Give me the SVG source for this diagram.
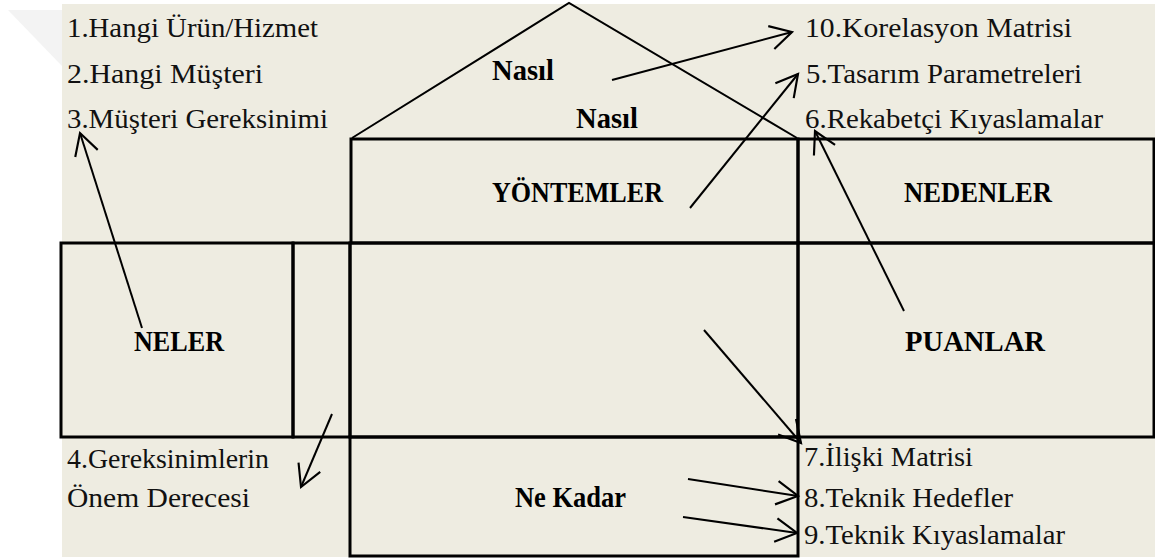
<svg xmlns="http://www.w3.org/2000/svg" width="1155" height="560" viewBox="0 0 1155 560">
  <style>
    .box { fill: none; stroke: #000; stroke-width: 3; }
    .roof { fill: none; stroke: #000; stroke-width: 2; }
    .arrow { fill: none; stroke: #000; stroke-width: 2; marker-end: url(#head); }
    .lbl { font-family: "Liberation Serif", "Times New Roman", serif; font-size: 28px; fill: #111; }
    .ttl { font-family: "Liberation Serif", "Times New Roman", serif; font-size: 29px; font-weight: bold; fill: #000; }
  </style>
  <defs>
    <marker id="head" markerUnits="userSpaceOnUse" markerWidth="30" markerHeight="30" viewBox="-24 -14 28 28" refX="0" refY="0" orient="auto">
      <path d="M-20,-11 L0,0 L-20,11" fill="none" stroke="#000" stroke-width="2"/>
    </marker>
  </defs>

  <!-- page -->
  <rect x="0" y="0" width="1155" height="560" fill="#ffffff"/>
  <polygon points="8,10 62,10 62,66" fill="#f3f3f3"/>
  <rect x="62" y="4" width="1093" height="553" fill="#eeece1"/>

  <!-- house of quality frame -->
  <g id="roof">
    <polyline class="roof" points="352,138 569,3 797,138"/>
    <text class="ttl" x="492" y="80" textLength="62" lengthAdjust="spacingAndGlyphs">Nasıl</text>
    <text class="ttl" x="576" y="128" textLength="62" lengthAdjust="spacingAndGlyphs">Nasıl</text>
  </g>

  <g id="yontemler">
    <rect class="box" x="351" y="139" width="447" height="104"/>
    <text class="ttl" x="492" y="202" textLength="171" lengthAdjust="spacingAndGlyphs">YÖNTEMLER</text>
  </g>

  <g id="nedenler">
    <rect class="box" x="798" y="139" width="356" height="104"/>
    <text class="ttl" x="904" y="202" textLength="148" lengthAdjust="spacingAndGlyphs">NEDENLER</text>
  </g>

  <g id="neler">
    <rect class="box" x="61" y="243" width="232" height="194"/>
    <text class="ttl" x="134" y="351" textLength="90" lengthAdjust="spacingAndGlyphs">NELER</text>
  </g>

  <g id="onem">
    <rect class="box" x="293" y="243" width="57" height="194"/>
  </g>

  <g id="iliski">
    <rect class="box" x="350" y="243" width="448" height="194"/>
  </g>

  <g id="puanlar">
    <rect class="box" x="798" y="243" width="356" height="194"/>
    <text class="ttl" x="905" y="351" textLength="140" lengthAdjust="spacingAndGlyphs">PUANLAR</text>
  </g>

  <g id="ne-kadar">
    <rect class="box" x="350" y="437" width="448" height="119"/>
    <text class="ttl" x="515" y="507" textLength="111" lengthAdjust="spacingAndGlyphs">Ne Kadar</text>
  </g>

  <!-- numbered captions -->
  <g id="captions-left">
    <text class="lbl" x="67" y="37" textLength="251" lengthAdjust="spacingAndGlyphs">1.Hangi Ürün/Hizmet</text>
    <text class="lbl" x="67" y="83" textLength="196" lengthAdjust="spacingAndGlyphs">2.Hangi Müşteri</text>
    <text class="lbl" x="67" y="128" textLength="261" lengthAdjust="spacingAndGlyphs">3.Müşteri Gereksinimi</text>
    <text class="lbl" x="67" y="468" textLength="202" lengthAdjust="spacingAndGlyphs">4.Gereksinimlerin</text>
    <text class="lbl" x="67" y="507" textLength="183" lengthAdjust="spacingAndGlyphs">Önem Derecesi</text>
  </g>

  <g id="captions-right">
    <text class="lbl" x="805" y="37" textLength="267" lengthAdjust="spacingAndGlyphs">10.Korelasyon Matrisi</text>
    <text class="lbl" x="806" y="83" textLength="276" lengthAdjust="spacingAndGlyphs">5.Tasarım Parametreleri</text>
    <text class="lbl" x="805" y="128" textLength="298" lengthAdjust="spacingAndGlyphs">6.Rekabetçi Kıyaslamalar</text>
    <text class="lbl" x="804" y="466" textLength="169" lengthAdjust="spacingAndGlyphs">7.İlişki Matrisi</text>
    <text class="lbl" x="804" y="507" textLength="209" lengthAdjust="spacingAndGlyphs">8.Teknik Hedefler</text>
    <text class="lbl" x="804" y="544" textLength="261" lengthAdjust="spacingAndGlyphs">9.Teknik Kıyaslamalar</text>
  </g>

  <!-- pointers from each area to its caption -->
  <g id="connectors">
    <line class="arrow" x1="142" y1="328" x2="80" y2="133"/>
    <line class="arrow" x1="612" y1="80" x2="792" y2="32"/>
    <line class="arrow" x1="690" y1="208" x2="798" y2="74"/>
    <line class="arrow" x1="904" y1="311" x2="815" y2="131"/>
    <line class="arrow" x1="704" y1="330" x2="801" y2="443"/>
    <line class="arrow" x1="688" y1="479" x2="798" y2="496"/>
    <line class="arrow" x1="683" y1="517" x2="797" y2="533"/>
    <line class="arrow" x1="332" y1="414" x2="301" y2="487"/>
  </g>
</svg>
